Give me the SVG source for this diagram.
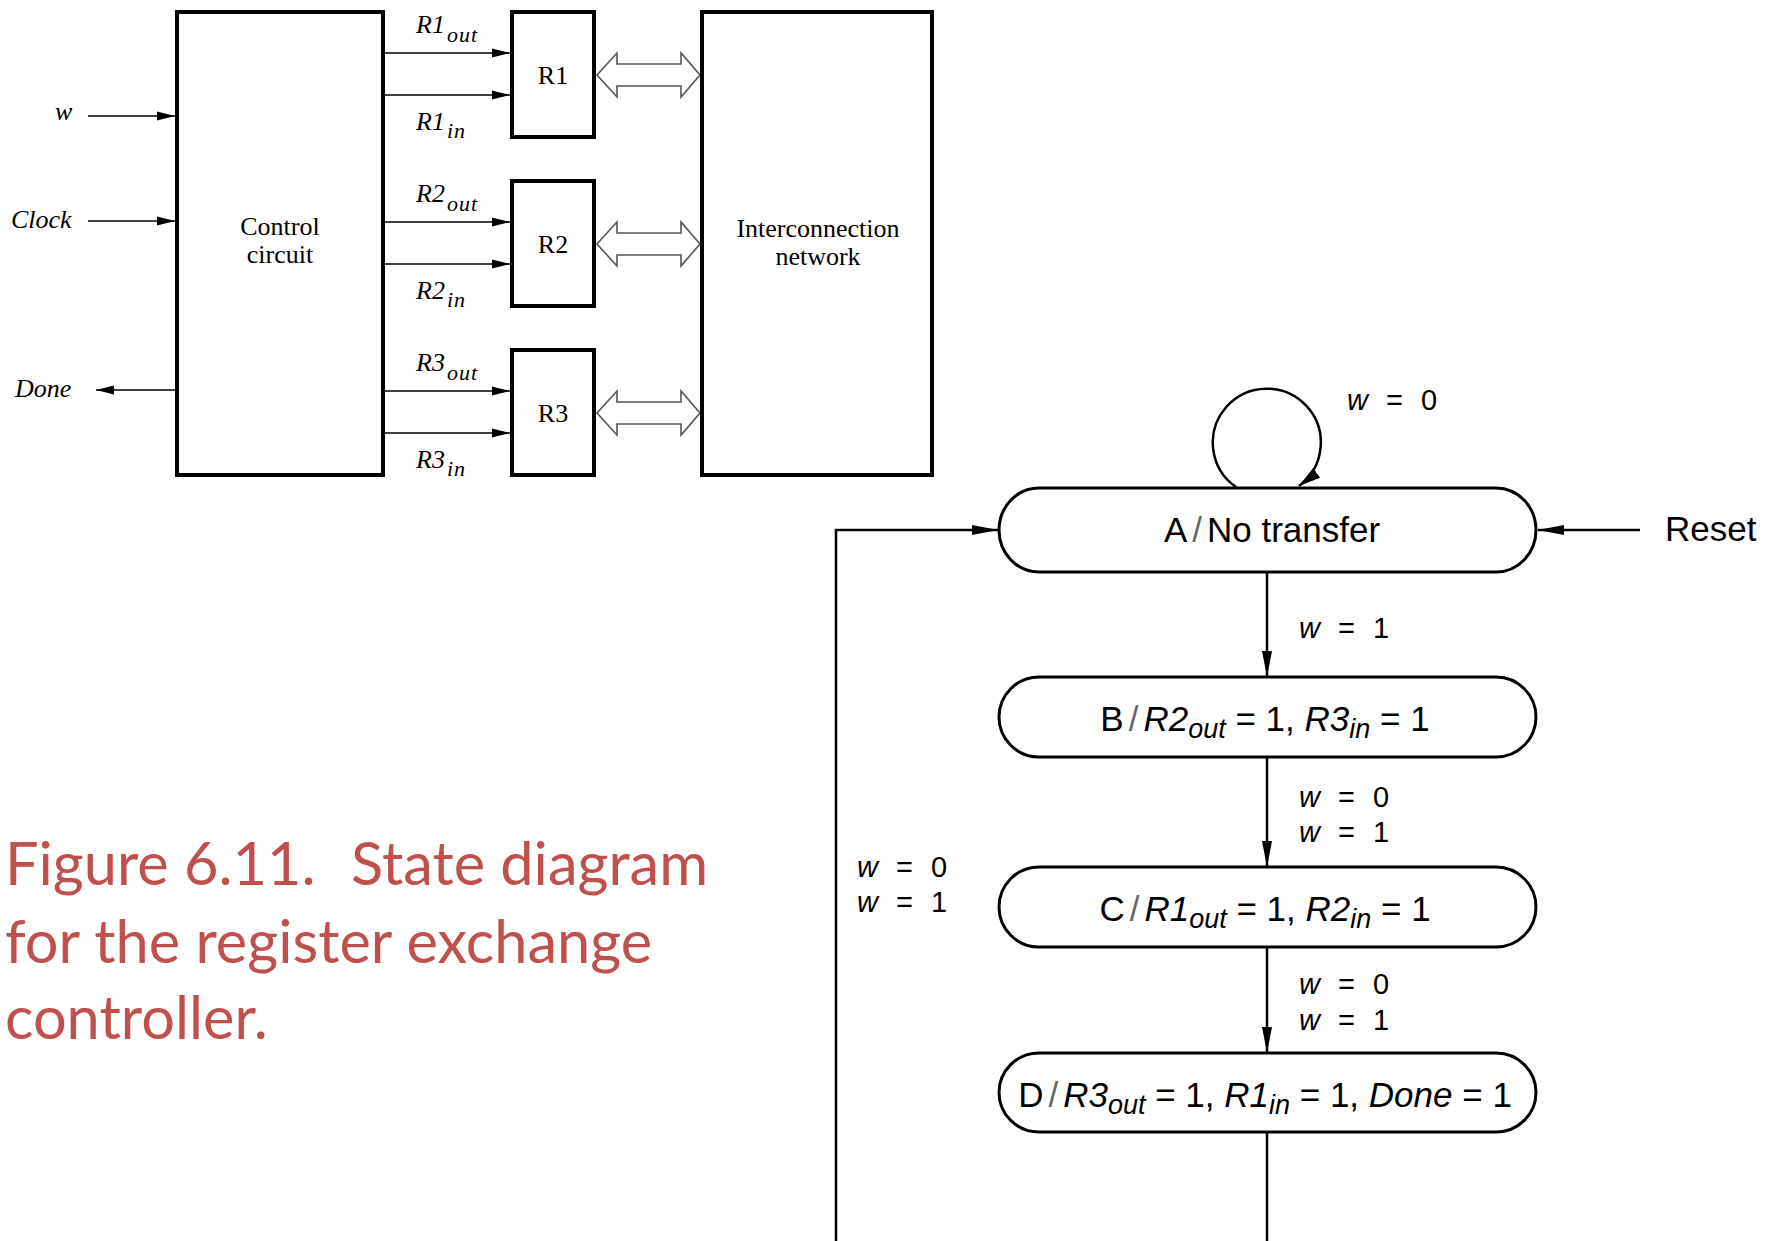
<svg xmlns="http://www.w3.org/2000/svg" width="1771" height="1241" viewBox="0 0 1771 1241">
<style>
.blk{fill:#fff;stroke:#000;stroke-width:4}
.wire{fill:none;stroke:#000;stroke-width:1.5}
.bus{fill:#fff;stroke:#555;stroke-width:1.6;stroke-linejoin:miter}
.serif{font-family:"Liberation Serif","Times New Roman",serif;font-size:26px;fill:#000}
.it{font-style:italic}
.sub{font-size:22px;letter-spacing:1px}
.state{fill:#fff;stroke:#000;stroke-width:3}
.edge{fill:none;stroke:#000;stroke-width:2.5}
.sans{font-family:"Liberation Sans",Arial,sans-serif;font-size:35px;fill:#000}
.lbl{font-family:"Liberation Sans",Arial,sans-serif;font-size:29px;fill:#000;word-spacing:10px}
.ssub{font-size:27px;font-style:italic}
.sl{fill:#666}
.cap{font-family:Lato,"Open Sans",sans-serif;font-size:59.5px;fill:#C0504D}
</style>
<defs>
<marker id="ah" markerUnits="userSpaceOnUse" markerWidth="18" markerHeight="10" refX="18" refY="5" orient="auto"><path d="M0,0.5 L18,5 L0,9.5 z" fill="#000"/></marker>
<marker id="ahs" markerUnits="userSpaceOnUse" markerWidth="26" markerHeight="12" refX="26" refY="6" orient="auto"><path d="M0,1 L26,6 L0,11 z" fill="#000"/></marker>
<marker id="ahl" markerUnits="userSpaceOnUse" markerWidth="24" markerHeight="14" refX="22" refY="7" orient="auto"><path d="M0,1 L22,7 L0,13 z" fill="#000"/></marker>
</defs>
<rect width="1771" height="1241" fill="#fff"/>

<g id="connectors">
  <line class="wire" x1="88" y1="116" x2="175" y2="116" marker-end="url(#ah)"/>
  <line class="wire" x1="88" y1="221" x2="175" y2="221" marker-end="url(#ah)"/>
  <line class="wire" x1="175" y1="390" x2="96" y2="390" marker-end="url(#ah)"/>
  <line class="wire" x1="385" y1="53" x2="510" y2="53" marker-end="url(#ah)"/>
  <line class="wire" x1="385" y1="95" x2="510" y2="95" marker-end="url(#ah)"/>
  <line class="wire" x1="385" y1="222" x2="510" y2="222" marker-end="url(#ah)"/>
  <line class="wire" x1="385" y1="264" x2="510" y2="264" marker-end="url(#ah)"/>
  <line class="wire" x1="385" y1="391" x2="510" y2="391" marker-end="url(#ah)"/>
  <line class="wire" x1="385" y1="433" x2="510" y2="433" marker-end="url(#ah)"/>
  <polygon class="bus" points="597,75 617,53 617,64 681,64 681,53 700,75 681,97 681,86 617,86 617,97"/>
  <polygon class="bus" points="597,244 617,222 617,233 681,233 681,222 700,244 681,266 681,255 617,255 617,266"/>
  <polygon class="bus" points="597,413 617,391 617,402 681,402 681,391 700,413 681,435 681,424 617,424 617,435"/>

  <path class="edge" d="M1236,487 A54,54 0 1 1 1299,486" marker-end="url(#ahl)"/>
  <line class="edge" x1="1640" y1="530" x2="1538" y2="530" marker-end="url(#ahs)"/>
  <line class="edge" x1="1267" y1="572" x2="1267" y2="677" marker-end="url(#ahs)"/>
  <line class="edge" x1="1267" y1="757" x2="1267" y2="867" marker-end="url(#ahs)"/>
  <line class="edge" x1="1267" y1="947" x2="1267" y2="1053" marker-end="url(#ahs)"/>
  <line class="edge" x1="1267" y1="1132" x2="1267" y2="1241"/>
  <path class="edge" d="M836,1241 L836,530 L998,530" marker-end="url(#ahs)"/>
</g>

<g id="signal-labels">
  <text class="serif it" x="55" y="120">w</text>
  <text class="serif it" x="11" y="228">Clock</text>
  <text class="serif it" x="15" y="397">Done</text>
  <text class="serif it" x="416" y="33">R1<tspan class="sub" dx="2" dy="9">out</tspan></text>
  <text class="serif it" x="416" y="130">R1<tspan class="sub" dx="2" dy="8">in</tspan></text>
  <text class="serif it" x="416" y="202">R2<tspan class="sub" dx="2" dy="9">out</tspan></text>
  <text class="serif it" x="416" y="299">R2<tspan class="sub" dx="2" dy="8">in</tspan></text>
  <text class="serif it" x="416" y="371">R3<tspan class="sub" dx="2" dy="9">out</tspan></text>
  <text class="serif it" x="416" y="468">R3<tspan class="sub" dx="2" dy="8">in</tspan></text>
  <text class="lbl" x="1347" y="410"><tspan font-style="italic">w</tspan> = 0</text>
  <text class="lbl" x="1299" y="638"><tspan font-style="italic">w</tspan> = 1</text>
  <text class="lbl" x="1299" y="807"><tspan font-style="italic">w</tspan> = 0</text>
  <text class="lbl" x="1299" y="842"><tspan font-style="italic">w</tspan> = 1</text>
  <text class="lbl" x="1299" y="994"><tspan font-style="italic">w</tspan> = 0</text>
  <text class="lbl" x="1299" y="1030"><tspan font-style="italic">w</tspan> = 1</text>
  <text class="lbl" x="857" y="877"><tspan font-style="italic">w</tspan> = 0</text>
  <text class="lbl" x="857" y="912"><tspan font-style="italic">w</tspan> = 1</text>
  <text class="sans" x="1665" y="541" font-size="33">Reset</text>
</g>

<g id="control">
  <rect class="blk" x="177" y="12" width="206" height="463"/>
  <text class="serif" x="280" y="235" text-anchor="middle">Control</text>
  <text class="serif" x="280" y="263" text-anchor="middle">circuit</text>
</g>
<g id="R1">
  <rect class="blk" x="512" y="12" width="82" height="125"/>
  <text class="serif" x="553" y="84" text-anchor="middle">R1</text>
</g>
<g id="R2">
  <rect class="blk" x="512" y="181" width="82" height="125"/>
  <text class="serif" x="553" y="253" text-anchor="middle">R2</text>
</g>
<g id="R3">
  <rect class="blk" x="512" y="350" width="82" height="125"/>
  <text class="serif" x="553" y="422" text-anchor="middle">R3</text>
</g>
<g id="network">
  <rect class="blk" x="702" y="12" width="230" height="463"/>
  <text class="serif" x="818" y="237" text-anchor="middle">Interconnection</text>
  <text class="serif" x="818" y="265" text-anchor="middle">network</text>
</g>

<g id="stateA">
  <rect class="state" x="999" y="488" width="537" height="84" rx="40" ry="42"/>
  <text class="sans" x="1272" y="542" text-anchor="middle">A<tspan class="sl" dx="5">/</tspan><tspan dx="5">No transfer</tspan></text>
</g>
<g id="stateB">
  <rect class="state" x="999" y="677" width="537" height="80" rx="40" ry="40"/>
  <text class="sans" x="1265" y="731" text-anchor="middle">B<tspan class="sl" dx="5">/</tspan><tspan dx="5" font-style="italic">R2</tspan><tspan class="ssub" dy="7">out</tspan><tspan dy="-7"> = 1, </tspan><tspan font-style="italic">R3</tspan><tspan class="ssub" dy="7">in</tspan><tspan dy="-7"> = 1</tspan></text>
</g>
<g id="stateC">
  <rect class="state" x="999" y="867" width="537" height="80" rx="40" ry="40"/>
  <text class="sans" x="1265" y="921" text-anchor="middle">C<tspan class="sl" dx="5">/</tspan><tspan dx="5" font-style="italic">R1</tspan><tspan class="ssub" dy="7">out</tspan><tspan dy="-7"> = 1, </tspan><tspan font-style="italic">R2</tspan><tspan class="ssub" dy="7">in</tspan><tspan dy="-7"> = 1</tspan></text>
</g>
<g id="stateD">
  <rect class="state" x="999" y="1053" width="537" height="79" rx="40" ry="40"/>
  <text class="sans" x="1265" y="1107" text-anchor="middle">D<tspan class="sl" dx="5">/</tspan><tspan dx="5" font-style="italic">R3</tspan><tspan class="ssub" dy="7">out</tspan><tspan dy="-7"> = 1, </tspan><tspan font-style="italic">R1</tspan><tspan class="ssub" dy="7">in</tspan><tspan dy="-7"> = 1, </tspan><tspan font-style="italic">Done</tspan><tspan> = 1</tspan></text>
</g>

<g id="caption">
  <text class="cap" x="5" y="885">Figure 6.11.<tspan x="351">State diagram</tspan></text>
  <text class="cap" x="5" y="963">for the register exchange</text>
  <text class="cap" x="5" y="1039">controller.</text>
</g>
</svg>
